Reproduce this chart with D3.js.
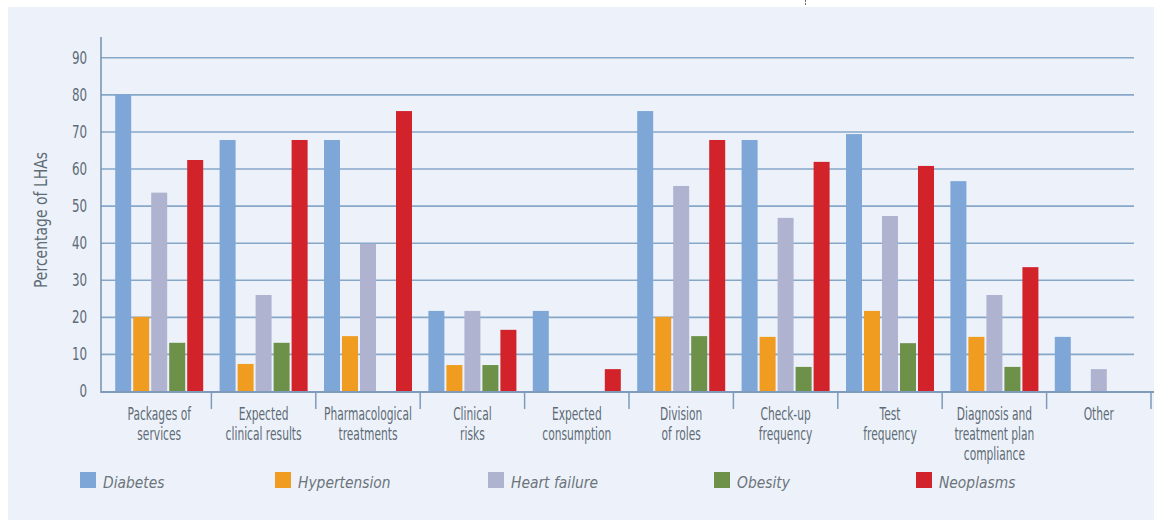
<!DOCTYPE html>
<html>
<head>
<meta charset="utf-8">
<script src="https://cdn.jsdelivr.net/npm/d3@7/dist/d3.min.js"></script>
<style>
  html, body { margin: 0; padding: 0; background: #ffffff; }
  svg { display: block; }
  .cond { font-family: "DejaVu Sans", sans-serif; }
</style>
</head>
<body>
<svg id="chart" width="1154" height="520"></svg>
<script>
// Care pathway content reported by Local Health Authorities, by disease
const categories = [
  "Packages of\nservices",
  "Expected\nclinical results",
  "Pharmacological\ntreatments",
  "Clinical\nrisks",
  "Expected\nconsumption",
  "Division\nof roles",
  "Check-up\nfrequency",
  "Test\nfrequency",
  "Diagnosis and\ntreatment plan\ncompliance",
  "Other"
];
const seriesNames = ["Diabetes", "Hypertension", "Heart failure", "Obesity", "Neoplasms"];
const diabetes     = [80.0, 67.7, 67.7, 21.6, 21.6, 75.5, 67.7, 69.3, 56.6, 14.6];
const hypertension = [20.0,  7.3, 14.8,  7.0,  0.0, 20.0, 14.6, 21.6, 14.6,  0.0];
const heartFailure = [53.5, 25.9, 39.7, 21.6,  0.0, 55.3, 46.7, 47.2, 25.9,  5.9];
const obesity      = [13.0, 13.0,  0.0,  7.0,  0.0, 14.8,  6.5, 12.9,  6.5,  0.0];
const neoplasms    = [62.3, 67.7, 75.5, 16.5,  5.9, 67.7, 61.8, 60.7, 33.4,  0.0];
const yTicks = [0, 10, 20, 30, 40, 50, 60, 70, 80, 90];
const yTitle = "Percentage of LHAs";

const seriesValues = [diabetes, hypertension, heartFailure, obesity, neoplasms];
const colors = ["#7ea7d8", "#f09c20", "#b0b3cf", "#6e9149", "#d2232a"];
const textColor = "#5e6b76";

const svg = d3.select("#chart");

// panel background
svg.append("rect").attr("x", 8).attr("y", 7).attr("width", 1146).attr("height", 513)
  .attr("fill", "#edf2fa");
// small crop mark above the panel
svg.append("line").attr("x1", 805.5).attr("x2", 805.5).attr("y1", 0).attr("y2", 6)
  .attr("stroke", "#666c72").attr("stroke-width", 1).attr("stroke-dasharray", "2,1");

const axisX = 101, gridRight = 1134;
const y = d3.scaleLinear().domain([0, 90]).range([391, 57.3]);
const x0 = d3.scaleBand().domain(categories).range([107, 1151]).paddingInner(0).paddingOuter(0);
const x1 = d3.scaleBand().domain(seriesNames).range([0, x0.bandwidth()])
  .paddingInner(0.111).paddingOuter(0.455);

// horizontal gridlines
const grid = svg.append("g").attr("transform", `translate(${axisX},0)`)
  .call(d3.axisLeft(y).tickValues(yTicks.filter(v => v > 0)).tickSize(-(gridRight - axisX)).tickFormat(""));
grid.select(".domain").remove();
grid.selectAll(".tick line").attr("stroke", "#86a7c8").attr("stroke-width", 1.6);

// bars
const rows = categories.map((c, i) => ({ cat: c, vals: seriesNames.map((s, j) => ({ s, j, v: seriesValues[j][i] })) }));
const groups = svg.append("g").selectAll("g").data(rows).join("g")
  .attr("transform", d => `translate(${x0(d.cat)},0)`);
groups.selectAll("rect").data(d => d.vals.filter(o => o.v > 0)).join("rect")
  .attr("x", o => x1(o.s))
  .attr("width", x1.bandwidth())
  .attr("y", o => y(o.v))
  .attr("height", o => y(0) - y(o.v) + 1.5)
  .attr("fill", o => colors[o.j]);

// y axis labels (narrowed horizontally for a condensed look) and line
const tickSx = 0.66;
const yAxis = svg.append("g").attr("transform", `translate(${axisX},0)`)
  .call(d3.axisLeft(y).tickValues(yTicks).tickSize(0).tickPadding(14));
yAxis.select(".domain").remove();
yAxis.selectAll("text").attr("class", "cond").attr("font-size", 18).attr("fill", textColor)
  .attr("font-family", "'DejaVu Sans', sans-serif")
  .attr("x", -14 / tickSx).attr("transform", `scale(${tickSx},1)`);
svg.append("line").attr("x1", axisX).attr("x2", axisX).attr("y1", 37).attr("y2", 393)
  .attr("stroke", "#7591b0").attr("stroke-width", 1.5);

// x axis baseline and category separators
svg.append("line").attr("x1", axisX).attr("x2", 1154).attr("y1", 392).attr("y2", 392)
  .attr("stroke", "#7f9aba").attr("stroke-width", 2);
svg.append("g").selectAll("line").data(categories).join("line")
  .attr("x1", d => x0(d) + x0.bandwidth()).attr("x2", d => x0(d) + x0.bandwidth())
  .attr("y1", 392).attr("y2", 409)
  .attr("stroke", "#7f9aba").attr("stroke-width", 1.5);

// category labels
const catSx = 0.61;
const xAxis = svg.append("g").attr("transform", "translate(0,392)")
  .call(d3.axisBottom(x0).tickSize(0).tickFormat(""));
xAxis.select(".domain").remove();
xAxis.selectAll(".tick").append("text")
  .attr("class", "cond").attr("text-anchor", "middle")
  .attr("font-size", 17.5).attr("fill", textColor)
  .attr("transform", `scale(${catSx},1)`)
  .selectAll("tspan").data(d => d.split("\n")).join("tspan")
  .attr("x", 0).attr("y", (t, i) => 28 + i * 20).text(t => t);

// y axis title
svg.append("text").attr("class", "cond")
  .attr("transform", "translate(47,220) rotate(-90) scale(0.8,1)")
  .attr("text-anchor", "middle").attr("font-size", 17.5).attr("fill", textColor)
  .text(yTitle);

// legend
const legendX = [80, 275, 488, 714, 916];
const legend = svg.append("g").selectAll("g").data(seriesNames).join("g")
  .attr("transform", (d, i) => `translate(${legendX[i]},472)`);
legend.append("rect").attr("width", 16).attr("height", 16).attr("fill", (d, i) => colors[i]);
legend.append("text").attr("transform", "translate(23,16) scale(0.84,1)")
  .attr("font-family", "'DejaVu Sans', sans-serif").attr("font-style", "italic")
  .attr("font-size", 16.5).attr("fill", "#6c747b")
  .text(d => d);
</script>
</body>
</html>
